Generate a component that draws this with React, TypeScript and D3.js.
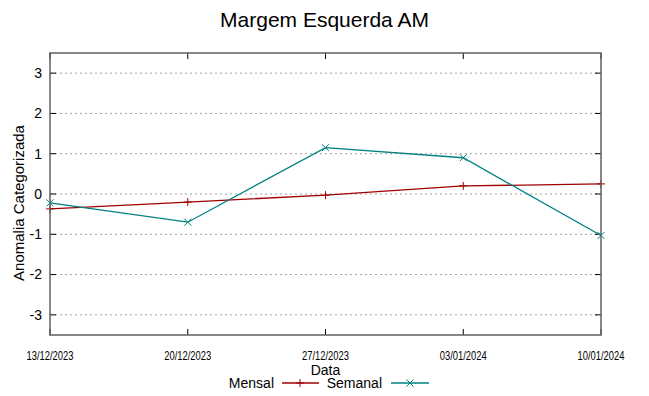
import React, { useEffect, useRef } from 'react'
import * as d3 from 'd3'

const dates = ['13/12/2023', '20/12/2023', '27/12/2023', '03/01/2024', '10/01/2024']
const mensal = [-0.37, -0.2, -0.03, 0.2, 0.25]
const semanal = [-0.22, -0.7, 1.15, 0.9, -1.03]
const yTicks = [-3, -2, -1, 0, 1, 2, 3]

const W = 649
const H = 396
const font = '"Liberation Sans Narrow", "Liberation Sans", Arial, sans-serif'

export default function App() {
  const svgRef = useRef<SVGSVGElement>(null)

  useEffect(() => {
    const svg = d3.select(svgRef.current)
    svg.selectAll('*').remove()
    const margin = { top: 53, right: 48, bottom: 61, left: 50 }
    const x = d3.scalePoint().domain(dates).range([margin.left, W - margin.right])
    const y = d3.scaleLinear().domain([-3.5, 3.5]).range([H - margin.bottom, margin.top])
    const x0 = margin.left, x1 = W - margin.right, y0 = margin.top, y1 = H - margin.bottom

    svg.append('rect').attr('width', W).attr('height', H).attr('fill', '#fff')

    // grid
    svg.append('g').selectAll('line').data(yTicks).enter().append('line')
      .attr('x1', x0).attr('x2', x1)
      .attr('y1', d => y(d)).attr('y2', d => y(d))
      .attr('stroke', '#a0a0a0').attr('stroke-width', 1).attr('stroke-dasharray', '2,3')

    // y ticks (inside, mirrored)
    const yt = svg.append('g')
    yTicks.forEach(t => {
      yt.append('line').attr('x1', x0).attr('x2', x0 + 6).attr('y1', y(t)).attr('y2', y(t)).attr('stroke', '#000')
      yt.append('line').attr('x1', x1 - 6).attr('x2', x1).attr('y1', y(t)).attr('y2', y(t)).attr('stroke', '#000')
      yt.append('text').attr('x', x0 - 8).attr('y', y(t)).attr('dy', '0.35em')
        .attr('text-anchor', 'end').attr('font-size', 14).attr('font-family', font).text(t)
    })

    // x ticks
    const xt = svg.append('g')
    dates.forEach(dt => {
      xt.append('line').attr('x1', x(dt)!).attr('x2', x(dt)!).attr('y1', y1).attr('y2', y1 - 6).attr('stroke', '#000')
      xt.append('line').attr('x1', x(dt)!).attr('x2', x(dt)!).attr('y1', y0).attr('y2', y0 + 6).attr('stroke', '#000')
      xt.append('text').attr('x', x(dt)!).attr('y', y1 + 25)
        .attr('text-anchor', 'middle').attr('font-size', 12).attr('font-family', font)
        .attr('textLength', 47).attr('lengthAdjust', 'spacingAndGlyphs').text(dt)
    })

    const line = d3.line<number>().x((_, i) => x(dates[i])!).y(d => y(d))

    svg.append('path').datum(mensal).attr('d', line).attr('fill', 'none')
      .attr('stroke', '#a00000').attr('stroke-width', 1.3)
    svg.append('path').datum(semanal).attr('d', line).attr('fill', 'none')
      .attr('stroke', '#008080').attr('stroke-width', 1.3)

    // markers
    const plus = (g: any, cx: number, cy: number, c: string) => {
      g.append('path').attr('d', `M${cx - 4},${cy}H${cx + 4}M${cx},${cy - 4}V${cy + 4}`).attr('stroke', c).attr('stroke-width', 1)
    }
    const cross = (g: any, cx: number, cy: number, c: string) => {
      g.append('path').attr('d', `M${cx - 3.5},${cy - 3.5}L${cx + 3.5},${cy + 3.5}M${cx - 3.5},${cy + 3.5}L${cx + 3.5},${cy - 3.5}`).attr('stroke', c).attr('stroke-width', 1)
    }
    const mk = svg.append('g')
    mensal.forEach((v, i) => plus(mk, x(dates[i])!, y(v), '#a00000'))
    semanal.forEach((v, i) => cross(mk, x(dates[i])!, y(v), '#008080'))

    // border
    svg.append('rect').attr('x', x0).attr('y', y0).attr('width', x1 - x0).attr('height', y1 - y0)
      .attr('fill', 'none').attr('stroke', '#606060').attr('stroke-width', 1.5)

    // titles
    svg.append('text').attr('x', W / 2).attr('y', 27).attr('text-anchor', 'middle')
      .attr('font-size', 21).attr('font-family', font).text('Margem Esquerda AM')
    svg.append('text').attr('transform', `translate(24,${(y0 + y1) / 2 + 9}) rotate(-90)`)
      .attr('text-anchor', 'middle').attr('font-size', 15).attr('font-family', font).text('Anomalia Categorizada')
    svg.append('text').attr('x', (x0 + x1) / 2).attr('y', 375).attr('text-anchor', 'middle')
      .attr('font-size', 14).attr('font-family', font).text('Data')

    // legend
    const ly = 383
    const lg = svg.append('g')
    lg.append('text').attr('x', 274).attr('y', ly).attr('dy', '0.35em').attr('text-anchor', 'end')
      .attr('font-size', 14).attr('font-family', font).text('Mensal')
    lg.append('line').attr('x1', 282).attr('x2', 319).attr('y1', ly).attr('y2', ly).attr('stroke', '#a00000').attr('stroke-width', 1.3)
    plus(lg, 300, ly, '#a00000')
    lg.append('text').attr('x', 382).attr('y', ly).attr('dy', '0.35em').attr('text-anchor', 'end')
      .attr('font-size', 14).attr('font-family', font).text('Semanal')
    lg.append('line').attr('x1', 391).attr('x2', 429).attr('y1', ly).attr('y2', ly).attr('stroke', '#008080').attr('stroke-width', 1.3)
    cross(lg, 410, ly, '#008080')
  }, [])

  return (
    <svg ref={svgRef} width={W} height={H} style={{ position: 'absolute', left: 0, top: 0 }} />
  )
}
